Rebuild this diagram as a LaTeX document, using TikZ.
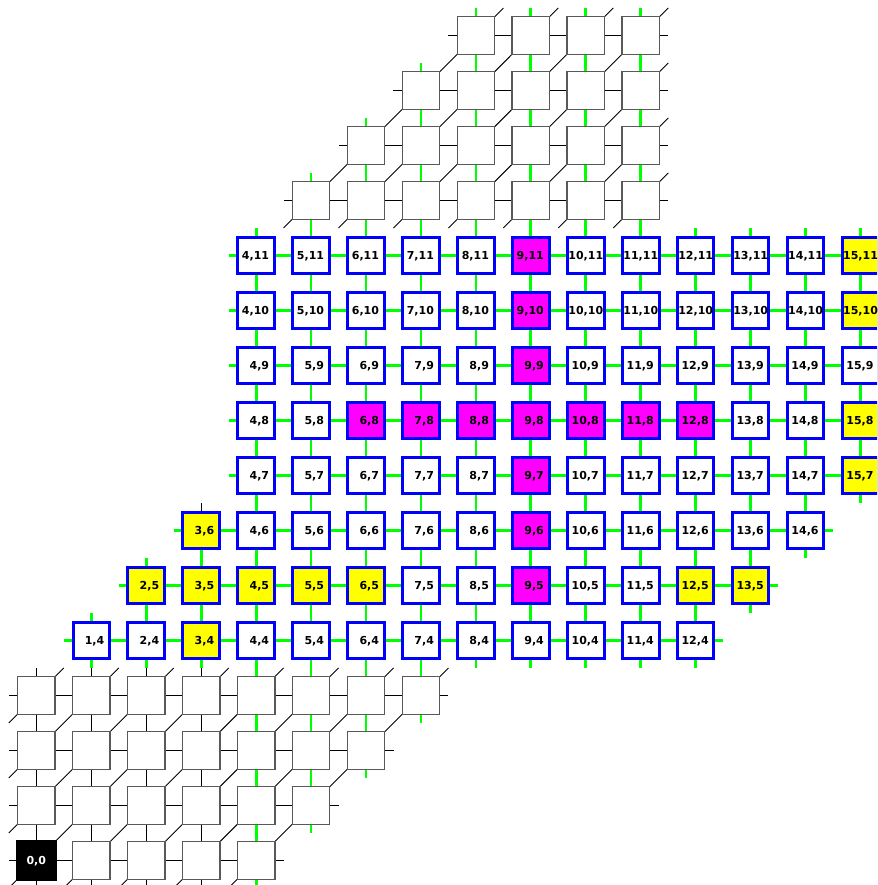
\documentclass[tikz,border=0pt]{standalone}
\usepackage{fontspec}
\setmainfont{DejaVu Sans}
\pgfdeclarelayer{bg}
\pgfsetlayers{bg,main}
\definecolor{lgreen}{RGB}{0,255,0}
\definecolor{myblue}{RGB}{0,0,255}
\definecolor{myyellow}{RGB}{255,255,0}
\definecolor{mymag}{RGB}{255,0,255}
\tikzset{
  gbox/.style={draw=black!65, line width=1.3pt, fill=white, minimum size=37.5pt, inner sep=0pt, outer sep=0pt},
  bbox/.style={draw=myblue, line width=3pt, minimum size=36.5pt, inner sep=0pt, outer sep=0pt},
  kbox/.style={draw=black, fill=black, line width=3pt, minimum size=37.5pt, inner sep=0pt, outer sep=0pt},
  lab/.style={font=\fontsize{11}{13}\selectfont\bfseries, inner sep=0pt, outer sep=0pt},
  glink/.style={draw=lgreen, line width=2.8pt},
  klink/.style={draw=black, line width=0.9pt},
}
% node type: 0 none, 1 gray, 2 blue
\newcommand\gettype[3]{%
  \pgfmathtruncatemacro\tmplo{(#2<=3)?0:((#2<=6)?(#2-3):((#2<=11)?4:(#2-7)))}%
  \pgfmathtruncatemacro\tmphi{(#2<=3)?(#2+4):((#2<=6)?(#2+8):((#2<=11)?15:11))}%
  \pgfmathtruncatemacro#3{((#2>=0)&&(#2<=15)&&(#1>=\tmplo)&&(#1<=\tmphi))?(((#2>=4)&&(#2<=11))?2:1):0}%
}
\newcommand\setfill[2]{\expandafter\def\csname fc-#1\endcsname{#2}}
\setfill{3-4}{myyellow}\setfill{3-5}{myyellow}\setfill{3-6}{myyellow}
\setfill{2-5}{myyellow}\setfill{4-5}{myyellow}\setfill{5-5}{myyellow}
\setfill{6-5}{myyellow}\setfill{12-5}{myyellow}\setfill{13-5}{myyellow}
\setfill{15-7}{myyellow}\setfill{15-8}{myyellow}\setfill{15-10}{myyellow}
\setfill{15-11}{myyellow}
\setfill{9-5}{mymag}\setfill{9-6}{mymag}\setfill{9-7}{mymag}\setfill{9-8}{mymag}
\setfill{9-9}{mymag}\setfill{9-10}{mymag}\setfill{9-11}{mymag}
\setfill{6-8}{mymag}\setfill{7-8}{mymag}\setfill{8-8}{mymag}
\setfill{10-8}{mymag}\setfill{11-8}{mymag}\setfill{12-8}{mymag}
\begin{document}
\begin{tikzpicture}[x=1pt,y=1pt]
\useasboundingbox (0,0) rectangle (877,885);
\clip (0,0) rectangle (877,885);
% boxes
\foreach \j in {0,...,15}{
  \foreach \i in {0,...,15}{
    \gettype{\i}{\j}{\ntp}
    \ifnum\ntp>0
      \pgfmathsetmacro\X{36.3+54.95*\i}
      \pgfmathsetmacro\Y{24.5+55*\j}
      \ifnum\ntp=2
        \ifcsname fc-\i-\j\endcsname
          \edef\fc{\csname fc-\i-\j\endcsname}
        \else
          \def\fc{white}
        \fi
        \node[bbox, fill=\fc] (n-\i-\j) at (\X,\Y) {};
        \pgfmathtruncatemacro\islong{(\i>9)&&(\j>9)}
        \ifnum\islong=1
          \node[lab, anchor=base] (l-\i-\j) at (\X,\Y-4) {\i,\j};
        \else
          \node[lab, anchor=base east] (l-\i-\j) at (\X+13,\Y-4) {\i,\j};
        \fi
      \else
        \pgfmathtruncatemacro\isorig{(\i==0)&&(\j==0)}
        \ifnum\isorig=1
          \node[kbox] (n-\i-\j) at (\X,\Y) {};
          \node[lab, text=white, anchor=base] (l-\i-\j) at (\X,\Y-4) {0,0};
        \else
          \node[gbox] (n-\i-\j) at (\X,\Y) {};
        \fi
      \fi
    \fi
  }
}
% links
\begin{pgfonlayer}{bg}
\foreach \j in {0,...,15}{
  \foreach \i in {0,...,15}{
    \gettype{\i}{\j}{\ntp}
    \ifnum\ntp>0
      \pgfmathtruncatemacro\ip{\i+1}
      \pgfmathtruncatemacro\im{\i-1}
      \pgfmathtruncatemacro\jp{\j+1}
      \pgfmathtruncatemacro\jm{\j-1}
      \ifnum\ntp=2 \def\hs{glink}\else\def\hs{klink}\fi
      \pgfmathtruncatemacro\isg{(\ntp==2)||((\i>=4)&&(\i<=11))}
      \ifnum\isg=1 \def\dnS{glink}\def\upS{glink}\else\def\dnS{klink}\def\upS{klink}\fi
      \pgfmathtruncatemacro\isexc{(\i==3)&&(\j==6)}
      \ifnum\isexc=1 \def\upS{klink}\fi
      % right
      \gettype{\ip}{\j}{\nr}
      \ifnum\nr>0
        \draw[\hs] (n-\i-\j.center) -- (n-\ip-\j.center);
      \else
        \ifnum\i<15
          \draw[\hs] (n-\i-\j.center) -- ++(27.5,0);
        \fi
      \fi
      % left stub
      \gettype{\im}{\j}{\nl}
      \ifnum\nl=0
        \draw[\hs] (n-\i-\j.center) -- ++(-27.5,0);
      \fi
      % up
      \gettype{\i}{\jp}{\nu}
      \ifnum\nu>0
        \pgfmathtruncatemacro\isgu{(\nu==2)||((\i>=4)&&(\i<=11))}
        \ifnum\isgu=1 \def\dnU{glink}\else\def\dnU{klink}\fi
        \ifx\upS\dnU
          \draw[\upS] (n-\i-\j.center) -- (n-\i-\jp.center);
        \else
          \draw[\upS] (n-\i-\j.center) -- ++(0,27.5);
          \draw[\dnU] (n-\i-\jp.center) -- ++(0,-27.5);
        \fi
      \else
        \draw[\upS] (n-\i-\j.center) -- ++(0,27.5);
      \fi
      % down stub
      \gettype{\i}{\jm}{\nd}
      \ifnum\nd=0
        \draw[\dnS] (n-\i-\j.center) -- ++(0,-27.5);
      \fi
      % diagonals for gray nodes
      \ifnum\ntp=1
        \gettype{\ip}{\jp}{\nur}
        \ifnum\nur=1
          \draw[klink] (n-\i-\j.center) -- (n-\ip-\jp.center);
        \else
          \draw[klink] (n-\i-\j.center) -- ++(27.5,27.5);
        \fi
        \gettype{\im}{\jm}{\ndl}
        \ifnum\ndl=1 \else
          \draw[klink] (n-\i-\j.center) -- ++(-27.5,-27.5);
        \fi
      \fi
    \fi
  }
}
\end{pgfonlayer}
\end{tikzpicture}
\end{document}
